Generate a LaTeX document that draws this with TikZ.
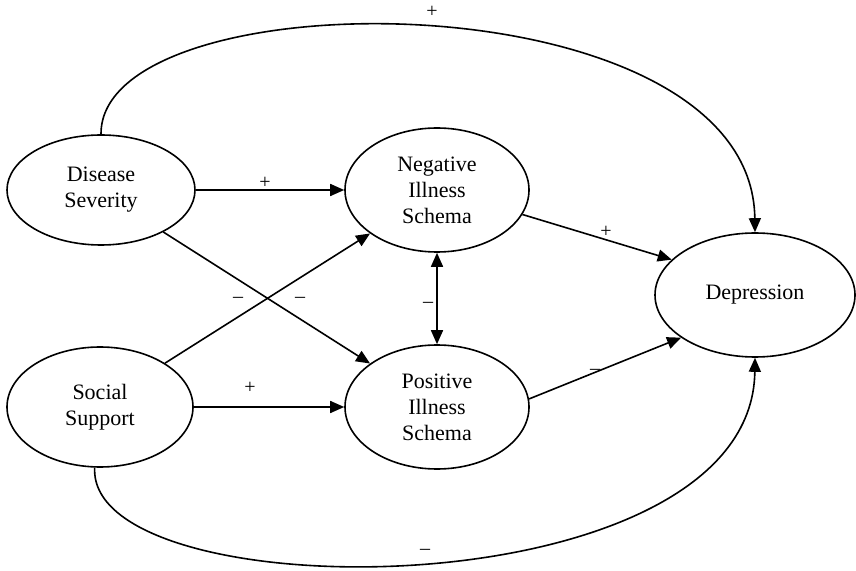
\documentclass[tikz,border=0pt]{standalone}
\usepackage{fontspec}
\setmainfont{Liberation Serif}
\usetikzlibrary{shapes.geometric,arrows.meta}
\tikzset{
  var/.style={ellipse, draw, line width=0.8pt, inner sep=0pt, align=center,
    font=\fontsize{11}{13}\selectfont},
  path/.style={line width=0.8pt, -{Triangle[length=7pt,width=6pt]}},
  lbl/.style={font=\fontsize{10}{12}\selectfont, inner sep=1pt}
}
\begin{document}
\begin{tikzpicture}[x=0.5pt,y=-0.5pt]
        \useasboundingbox (0,0) rectangle (856,571);
        % Variables
        \node[var, minimum width=94pt, minimum height=55pt] (DS) at (101,190) {Disease\\Severity};
        \node[var, minimum width=93pt, minimum height=60pt] (SS) at (100,407) {Social\\Support};
        \node[var, minimum width=92pt, minimum height=62pt] (NIS) at (437,190) {Negative\\Illness\\Schema};
        \node[var, minimum width=92pt, minimum height=62pt] (PIS) at (437,407) {Positive\\Illness\\Schema};
        \node[var, minimum width=100pt, minimum height=62pt] (DEP) at (755,295) {Depression};

        % Paths
        \draw[path] (DS.east) -- (NIS.west);
        \draw[path] (SS.east) -- (PIS.west);
        \draw[path] (DS.-34) -- (PIS.147);
        \draw[path] (SS.34) -- (NIS.-147);
        \draw[path] (NIS.-16) -- (DEP.157);
        \draw[path] (PIS.5) -- (DEP.-150);
        \draw[line width=0.8pt, {Triangle[length=7pt,width=6pt]}-{Triangle[length=7pt,width=6pt]}] (NIS.south) -- (PIS.north);
        \draw[path] (DS.north) .. controls (100,-25) and (752,-25) .. (DEP.north);
        \draw[path] (SS.-95) .. controls (87,613) and (752,613) .. (DEP.south);

        % Signs
        \node[lbl] (s1) at (432,12) {+};
        \node[lbl] (s2) at (265,183) {+};
        \node[lbl] (s3) at (238,300) {–};
        \node[lbl] (s4) at (300,300) {–};
        \node[lbl] (s5) at (250,388) {+};
        \node[lbl] (s6) at (428,305) {–};
        \node[lbl] (s7) at (606,232) {+};
        \node[lbl] (s8) at (595,372) {–};
        \node[lbl] (s9) at (425,552) {–};
\end{tikzpicture}
\end{document}
